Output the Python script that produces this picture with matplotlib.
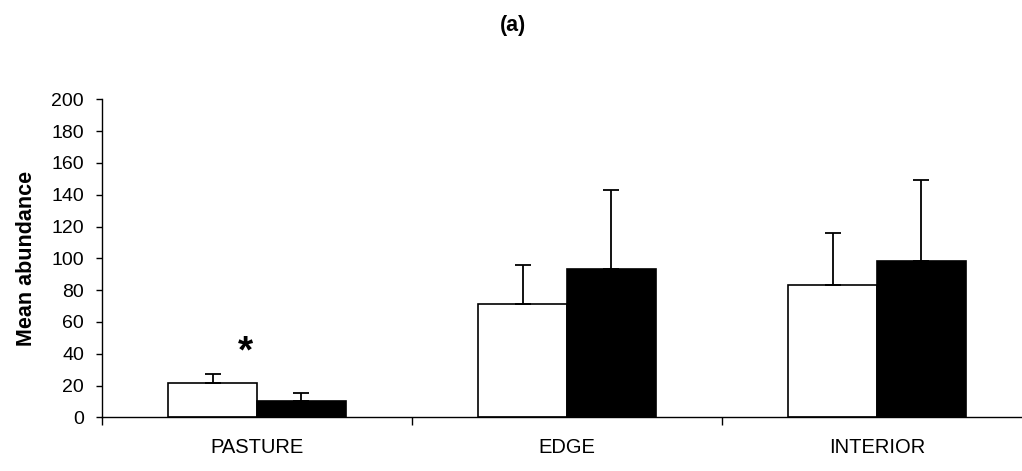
import numpy as np
import matplotlib
matplotlib.use("Agg")
from matplotlib import pyplot as plt
from matplotlib.ticker import FixedLocator, NullFormatter

plt.rcParams['font.family'] = ['Liberation Sans', 'DejaVu Sans']

habitats = ["PASTURE", "EDGE", "INTERIOR"]
open_mean = [21.5, 71.5, 83]
open_err = [6, 24, 33]
filled_mean = [10, 93, 98.5]
filled_err = [5, 50, 51]

fig = plt.figure(figsize=(10.22, 4.71), dpi=100)
ax = fig.add_axes([102 / 1022, 53.7 / 471, 930 / 1022, 318 / 471])

x = np.arange(len(habitats))
w = 0.287

ax.bar(x - w / 2, open_mean, w, color='white', edgecolor='black', linewidth=1.2,
       yerr=[np.zeros(3), open_err], error_kw=dict(ecolor='black', elinewidth=1.3, capsize=5.5, capthick=1.3))
ax.bar(x + w / 2, filled_mean, w, color='black', edgecolor='black', linewidth=1.2,
       yerr=[np.zeros(3), filled_err], error_kw=dict(ecolor='black', elinewidth=1.3, capsize=5.5, capthick=1.3))

# significance mark over pasture
ax.annotate("*", xy=(x[0] - w / 2, open_mean[0] + open_err[0]), xytext=(24, 2),
            textcoords='offset points', ha='center', va='bottom', fontsize=28, fontweight='bold')

ax.set_xlim(-0.5, len(habitats) - 0.5)
ax.set_ylim(0, 200)
ax.set_yticks(np.arange(0, 201, 20))
ax.tick_params(axis='y', direction='out', length=4.5, width=1, labelsize=14, pad=8.5)

ax.set_xticks(x)
ax.set_xticklabels(habitats)
ax.xaxis.set_minor_locator(FixedLocator(np.arange(-0.5, len(habitats), 1)))
ax.xaxis.set_minor_formatter(NullFormatter())
ax.tick_params(axis='x', which='major', length=0, labelsize=14.5, pad=15)
ax.tick_params(axis='x', which='minor', direction='out', length=5.5, width=1)

for s in ['top', 'right']:
    ax.spines[s].set_visible(False)
ax.spines['left'].set_linewidth(1)
ax.spines['bottom'].set_linewidth(1)

ax.set_ylabel("Mean abundance", fontsize=15.5, fontweight='bold', labelpad=10)
fig.text(513 / 1022, 1 - 25 / 471, "(a)", ha='center', va='center', fontsize=15.5, fontweight='bold')

fig.savefig("out.png", dpi=100)
